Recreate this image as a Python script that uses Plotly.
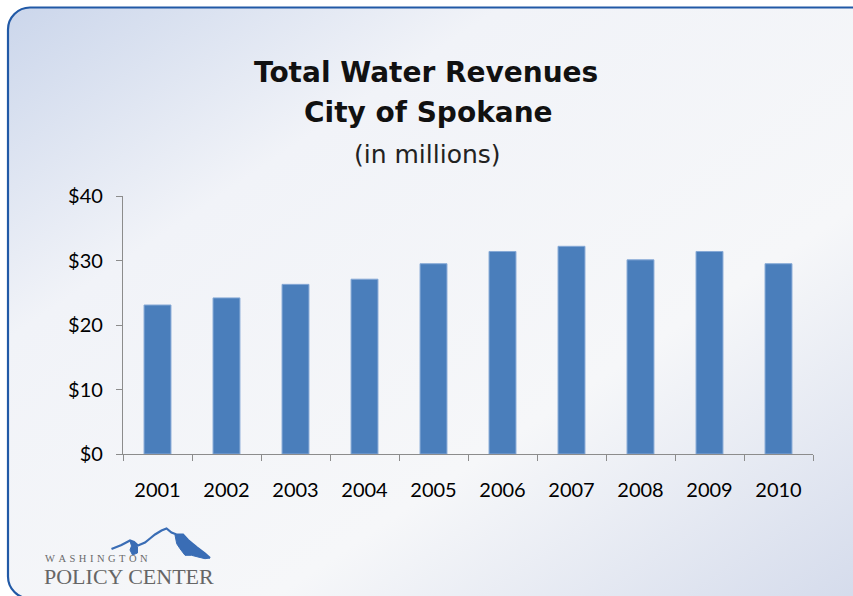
import base64
import plotly.graph_objects as go

# ---- data ----
years = ["2001", "2002", "2003", "2004", "2005", "2006", "2007", "2008", "2009", "2010"]
revenues = [23.1, 24.2, 26.3, 27.1, 29.5, 31.4, 32.2, 30.1, 31.4, 29.5]
y_tickvals = [0, 10, 20, 30, 40]
y_ticktext = ["$0", "$10", "$20", "$30", "$40"]

W, H = 853, 596
PX0, PX1, PY0, PY1 = 123, 813, 196, 454   # plot area in page pixels
L, R, T, B = PX0, W - PX1, PY0, H - PY1
PW, PH = PX1 - PX0, PY1 - PY0


def px(x):
    return (x - PX0) / PW


def py(y):
    return (PY1 - y) / PH


# background: rounded panel with soft gradient (decoration)
svg = f'''<svg xmlns="http://www.w3.org/2000/svg" width="{W}" height="{H}" viewBox="0 0 {W} {H}" preserveAspectRatio="none">
<defs><linearGradient id="g" x1="0" y1="0" x2="1" y2="1">
<stop offset="0" stop-color="#cbd6eb"/>
<stop offset="0.28" stop-color="#f1f3f8"/>
<stop offset="0.65" stop-color="#f6f7f9"/>
<stop offset="1" stop-color="#d3daeb"/>
</linearGradient></defs>
<rect x="8" y="7.5" width="880" height="591" rx="22" ry="22" fill="url(#g)" stroke="#2159a6" stroke-width="2.2"/>
</svg>'''
src = "data:image/svg+xml;base64," + base64.b64encode(svg.encode()).decode()

fig = go.Figure()
fig.add_trace(go.Bar(
    x=years, y=revenues, width=0.39,
    marker=dict(color="#4a7ebb", line=dict(color="#86a9d6", width=1)),
    hoverinfo="x+y",
))

font_main = "Lato, 'Open Sans', sans-serif"
font_title = "'DejaVu Sans', 'Open Sans', sans-serif"
serif = "'Liberation Serif', 'DejaVu Serif', serif"
sp = "\u2004"

annotations = [
    dict(text="<b>Total Water Revenues</b>", x=px(426), y=py(72), font=dict(size=28, color="#111111", family=font_title)),
    dict(text="<b>City of Spokane</b>", x=px(428), y=py(112), font=dict(size=28, color="#111111", family=font_title)),
    dict(text="(in millions)", x=px(427), y=py(154), font=dict(size=25, color="#222222", family=font_title)),
    dict(text=sp.join("WASHINGTON"), x=px(43), y=py(558), xanchor="left",
         font=dict(size=10.5, color="#6a6a6a", family=serif)),
    dict(text="POLICY CENTER", x=px(42), y=py(576), xanchor="left",
         font=dict(size=22, color="#666666", family=serif)),
]
for a in annotations:
    a.setdefault("xanchor", "center")
    a.update(xref="paper", yref="paper", yanchor="middle", showarrow=False)


def path_of(pts, close=False):
    s = "M " + " L ".join(f"{px(x):.5f},{py(y):.5f}" for x, y in pts)
    return s + (" Z" if close else "")


# logo mountain (decoration)
ridge = [(111.5, 549), (116.5, 547), (121.5, 545), (130, 540.5), (134, 542), (138, 545.5),
         (145, 542.5), (150, 538.5), (155, 534.5), (161.5, 530.5), (166.5, 528.5),
         (171.5, 532.5), (176.5, 534.5), (183, 534.5), (188, 540), (196.5, 547),
         (205, 553.5), (210, 558)]
right_fill = [(175, 535), (183, 534.5), (188, 540), (196.5, 547), (205, 553.5), (210, 558),
              (205, 558.7), (198, 557), (191.5, 555.3), (185, 555.3), (180, 548.7),
              (176.7, 543.7)]
valley = [(130, 541), (135, 543), (137.5, 547), (137.5, 553), (132.5, 555), (130, 550), (131.5, 546)]

shapes = [
    dict(type="path", path=path_of(ridge), xref="paper", yref="paper", line=dict(color="#3a6db5", width=2.2)),
    dict(type="path", path=path_of(right_fill, True), xref="paper", yref="paper", fillcolor="#3a6db5", line=dict(color="#3a6db5", width=1)),
    dict(type="path", path=path_of(valley, True), xref="paper", yref="paper", fillcolor="#3a6db5", line=dict(color="#3a6db5", width=1)),
]

fig.update_layout(
    width=W, height=H,
    margin=dict(l=L, r=R, t=T, b=B),
    paper_bgcolor="white",
    plot_bgcolor="rgba(0,0,0,0)",
    showlegend=False,
    annotations=annotations,
    shapes=shapes,
    images=[dict(source=src, xref="paper", yref="paper", x=px(0), y=py(0),
                 sizex=W / PW, sizey=H / PH, xanchor="left", yanchor="top",
                 sizing="stretch", layer="below")],
    font=dict(family=font_main, color="#111111"),
)
fig.update_xaxes(
    type="category", showline=True, linecolor="#8c8c8c", linewidth=1.3,
    ticks="outside", ticklen=6, tickcolor="#8c8c8c", tickwidth=1.3, tickson="boundaries",
    showgrid=False, zeroline=False, ticklabelstandoff=18,
    tickfont=dict(size=20, color="#000000", family=font_main),
)
fig.update_yaxes(
    range=[0, 40], tickvals=y_tickvals, ticktext=y_ticktext,
    showline=True, linecolor="#8c8c8c", linewidth=1.3,
    ticks="outside", ticklen=6, tickcolor="#8c8c8c", tickwidth=1.3,
    showgrid=False, zeroline=False, ticklabelstandoff=9,
    tickfont=dict(size=20, color="#000000", family=font_main),
)

fig.write_html(
    "out.html",
    config={"displayModeBar": False},
    post_script="document.body.style.margin='0';document.body.style.overflow='hidden';",
)
